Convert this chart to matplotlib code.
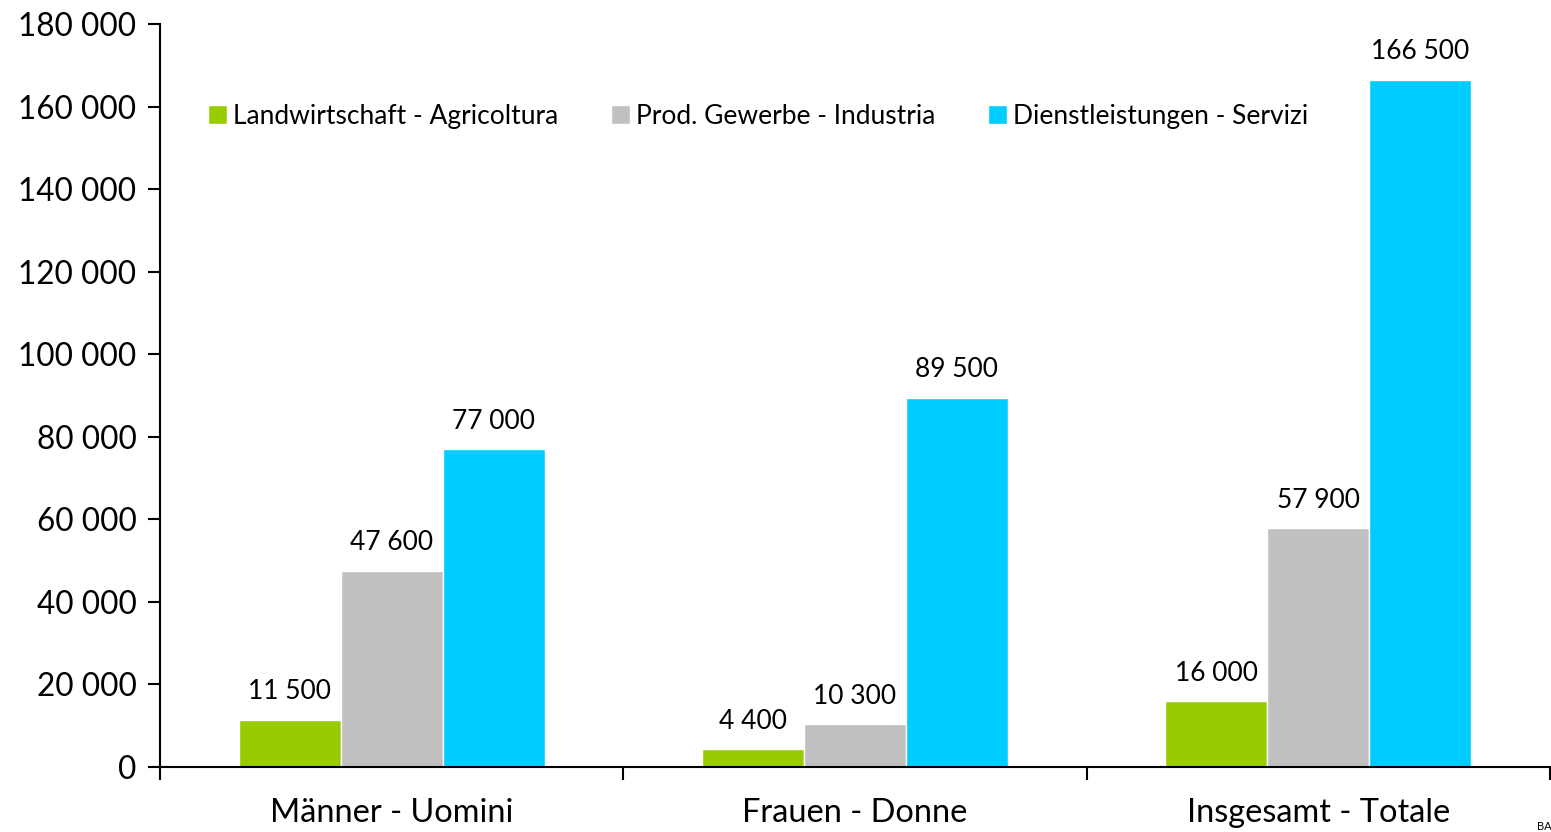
import matplotlib
matplotlib.use("Agg")
import matplotlib.pyplot as plt
import numpy as np

plt.rcParams['font.family'] = ['Lato', 'DejaVu Sans']

categories = ['Männer - Uomini', 'Frauen - Donne', 'Insgesamt - Totale']
series_names = ['Landwirtschaft - Agricoltura', 'Prod. Gewerbe - Industria', 'Dienstleistungen - Servizi']
landwirtschaft = [11500, 4400, 16000]
gewerbe = [47600, 10300, 57900]
dienst = [77000, 89500, 166500]
colors = ['#99cc00', '#c0c0c0', '#00ccff']

fig = plt.figure(figsize=(15.51, 8.32), dpi=100)
ax = fig.add_axes([160 / 1551, 1 - 767 / 832, 1390 / 1551, (767 - 24) / 832])

x = np.arange(len(categories)) + 0.5
w = 0.22
for i, (vals, name, col) in enumerate(zip([landwirtschaft, gewerbe, dienst], series_names, colors)):
    pos = x + (i - 1) * w
    ax.bar(pos, vals, w, color=col, edgecolor='white', linewidth=1, label=name)
    for p, v in zip(pos, vals):
        ax.annotate(f"{v:,}".replace(",", " "), (p, v), xytext=(0, 11), textcoords='offset points',
                    ha='center', va='bottom', fontsize=19)

ax.set_xlim(0, 3)
ax.set_ylim(0, 180000)
ax.set_yticks(np.arange(0, 180001, 20000))
ax.set_yticklabels([f"{int(t):,}".replace(",", " ") for t in np.arange(0, 180001, 20000)], fontsize=22.7)
ax.set_xticks([0, 1, 2, 3])
ax.set_xticklabels([])
ax.set_xticks(x, minor=True)
ax.set_xticklabels(categories, minor=True, fontsize=23.4)
ax.tick_params(axis='x', which='minor', length=0, pad=22)
ax.tick_params(axis='x', which='major', length=9, width=1.5, direction='out')
ax.tick_params(axis='y', length=9, width=1.5, pad=8)

for s in ['top', 'right']:
    ax.spines[s].set_visible(False)
for s in ['left', 'bottom']:
    ax.spines[s].set_linewidth(1.5)

ax.legend(loc='center', bbox_to_anchor=(0.4305, 0.876), ncol=3, frameon=False, fontsize=19,
          handlelength=0.7, handleheight=0.7, handletextpad=0.25, columnspacing=2.0)

# source note in the bottom right corner (cut off at the edge as in the original)
fig.text(1537 / 1551, 1 - 826 / 832, 'BAK', fontsize=8, ha='left', va='center')

fig.savefig('out.png', dpi=100)
